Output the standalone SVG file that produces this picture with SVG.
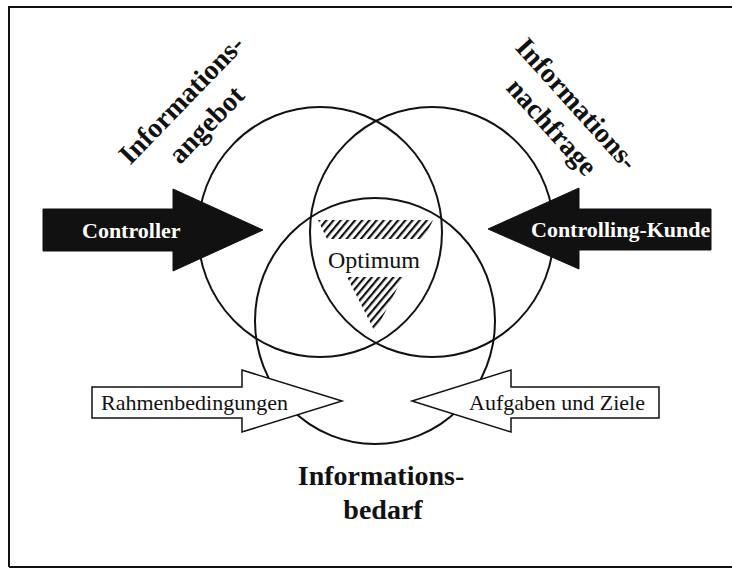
<svg xmlns="http://www.w3.org/2000/svg" width="732" height="568" viewBox="0 0 732 568">
  <style>
    .circ { fill: none; stroke: #111; stroke-width: 2; }
    .black { fill: #111; stroke: #111; stroke-width: 1; }
    .white { fill: #fff; stroke: #111; stroke-width: 1.5; }
    .big { font-family: "Liberation Serif", "Times New Roman", serif; font-weight: bold; font-size: 28px; fill: #111; }
    .lbl { font-family: "Liberation Serif", "Times New Roman", serif; font-size: 22px; fill: #111; }
    .wlbl { font-family: "Liberation Serif", "Times New Roman", serif; font-weight: bold; font-size: 22px; fill: #fff; }
  </style>
  <defs>
    <pattern id="hatch" patternUnits="userSpaceOnUse" width="5.5" height="10" patternTransform="rotate(40)">
      <rect x="0" y="0" width="2.2" height="10" fill="#111"/>
    </pattern>
  </defs>
  <rect x="0" y="0" width="732" height="568" fill="#fff"/>
  <path d="M9,567 V7 H732 M9,567 H732" fill="none" stroke="#111" stroke-width="2"/>

  <g id="optimum">
    <polygon points="318,220 433,220 424,239 327,239" fill="url(#hatch)"/>
    <polygon points="347,277 403,277 375,332" fill="url(#hatch)"/>
    <text class="lbl" x="374" y="268" text-anchor="middle" style="font-size:24px">Optimum</text>
  </g>

  <g id="informationsangebot">
    <ellipse class="circ" cx="320" cy="232" rx="122" ry="125"/>
    <text class="big" text-anchor="middle" transform="translate(188,106) rotate(-46)">Informations-</text>
    <text class="big" text-anchor="middle" transform="translate(213,131) rotate(-46)">angebot</text>
  </g>

  <g id="informationsnachfrage">
    <ellipse class="circ" cx="432" cy="232" rx="122" ry="125"/>
    <text class="big" text-anchor="middle" transform="translate(570,110) rotate(48)">Informations-</text>
    <text class="big" text-anchor="middle" transform="translate(545,133) rotate(48)">nachfrage</text>
  </g>

  <g id="informationsbedarf">
    <ellipse class="circ" cx="375" cy="321" rx="120" ry="123"/>
    <text class="big" x="381" y="485" text-anchor="middle">Informations-</text>
    <text class="big" x="383" y="519" text-anchor="middle">bedarf</text>
  </g>

  <g id="connectors">
    <g id="controller">
      <polygon class="black" points="43,209 173,209 173,189 263,230 173,271 173,251 43,251"/>
      <text class="wlbl" x="82" y="238">Controller</text>
    </g>
    <g id="controlling-kunde">
      <polygon class="black" points="711,209 579,209 579,188 488,229 579,269 579,250 711,250"/>
      <text class="wlbl" x="531" y="237">Controlling-Kunde</text>
    </g>
    <g id="rahmenbedingungen">
      <polygon class="white" points="92,387 242,387 242,370 342,401 242,432 242,418 92,418"/>
      <text class="lbl" x="101" y="410">Rahmenbedingungen</text>
    </g>
    <g id="aufgaben-und-ziele">
      <polygon class="white" points="659,387 511,387 511,370 412,401 511,432 511,418 659,418"/>
      <text class="lbl" x="469" y="410">Aufgaben und Ziele</text>
    </g>
  </g>
</svg>
